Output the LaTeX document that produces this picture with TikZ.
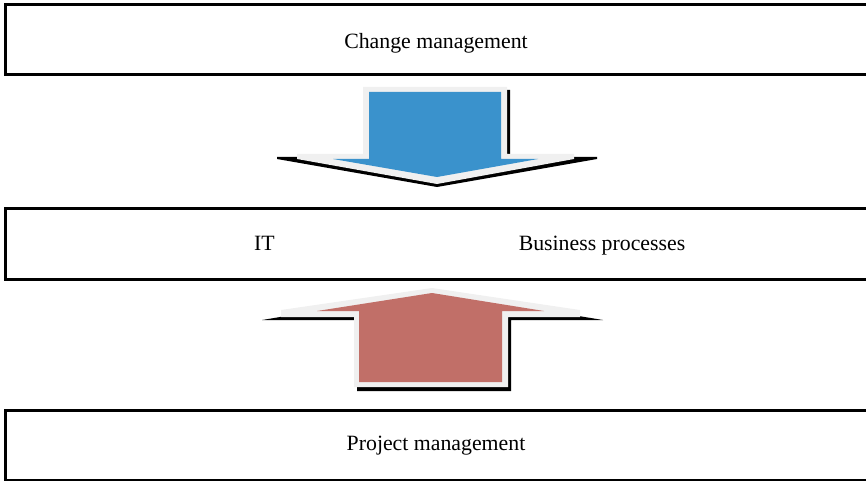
\documentclass[tikz,border=0pt]{standalone}
\usepackage{fontspec}
\setmainfont{Liberation Serif}
\begin{document}
\begin{tikzpicture}[x=1pt,y=-1pt,
  band/.style={draw=black,line width=3pt,fill=white,minimum width=875pt,
    minimum height=70pt,anchor=west,inner sep=0pt,outer sep=0pt},
  label/.style={font=\fontsize{21.8}{26}\selectfont,inner sep=0pt,anchor=base},
  shadow/.style={fill=black},
  rim/.style={fill=rimgray},
]
\definecolor{rimgray}{HTML}{F0F0F0}
\definecolor{downblue}{HTML}{3A92CC}
\definecolor{upred}{HTML}{C16F68}
\useasboundingbox (0,0) rectangle (866,481);
\clip (0,0) rectangle (866,481);

% three layers
\node[band] (change) at (5.5,39.5) {};
\node[band,minimum height=71.5pt] (middle) at (5.5,243.75) {};
\node[band] (project) at (5.5,445) {};

\node[label] (changetext) at (436,48.5) {Change management};
\node[label] (ittext) at (264.5,250) {IT};
\node[label] (bptext) at (602,250) {Business processes};
\node[label] (projecttext) at (436,450) {Project management};

% downward block arrow
\fill[shadow] (366,90) -- (510,90) -- (510,157) -- (597,157) -- (597,159)
  -- (437,187) -- (277,159) -- (277,157) -- (366,157) -- cycle;
\fill[rim] (363,87) -- (507,87) -- (507,154) -- (574,154) -- (574,159)
  -- (437,184) -- (297,159) -- (297,154) -- (363,154) -- cycle;
\fill[downblue] (369,92) -- (501,92) -- (501,159) -- (538,159)
  -- (437,177) -- (333,159) -- (369,159) -- cycle;

% upward block arrow
\fill[shadow] (432,292) -- (603,320) -- (511,320) -- (511,391)
  -- (357,391) -- (357,320) -- (262,320) -- cycle;
\fill[rim] (432,288) -- (580,310) -- (580,317) -- (508,317) -- (508,387)
  -- (354,387) -- (354,317) -- (281,317) -- (281,310) -- cycle;
\fill[upred] (432,293) -- (544,311) -- (502,311) -- (502,382)
  -- (359,382) -- (359,311) -- (317,311) -- cycle;
\end{tikzpicture}
\end{document}
